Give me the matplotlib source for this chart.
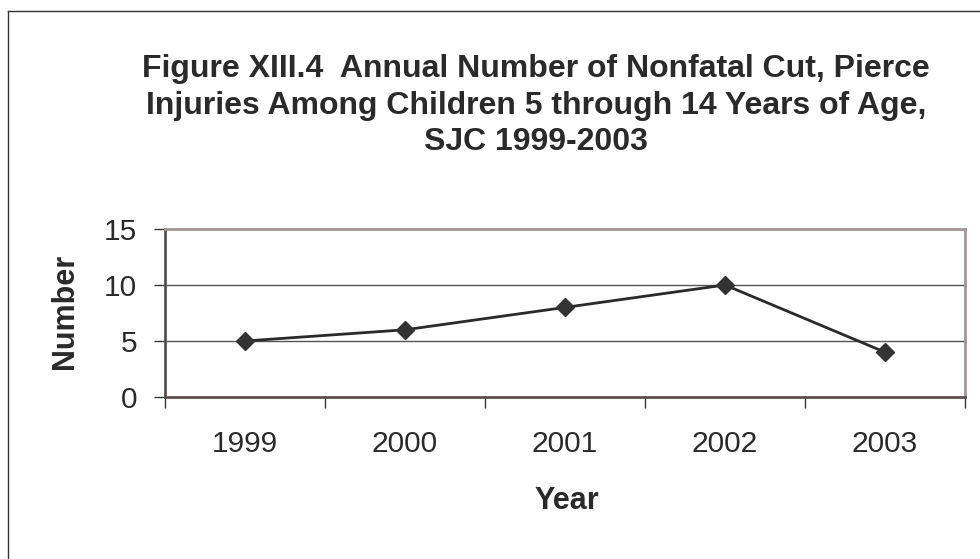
import matplotlib
matplotlib.use("Agg")
import matplotlib.pyplot as plt
from matplotlib.lines import Line2D

years = ["1999", "2000", "2001", "2002", "2003"]
counts = [5, 6, 8, 10, 4]
yticks = [0, 5, 10, 15]

plt.rcParams['font.family'] = ['Liberation Sans', 'DejaVu Sans']

W, H = 980, 559
fig = plt.figure(figsize=(W/100, H/100), dpi=100)
ax = fig.add_axes([165/W, 1-397/H, 800/W, 168/H])

x = list(range(len(years)))
ax.plot(x, counts, color='#2a2a2a', lw=2, marker='D', ms=9.5,
        markerfacecolor='#333333', markeredgecolor='#333333', zorder=3)

ax.set_xlim(-0.5, len(years)-0.5)
ax.set_ylim(0, 15)
ax.set_yticks(yticks)
ax.set_yticklabels([str(v) for v in yticks])
ax.set_xticks(x)
ax.set_xticklabels(years)
ax.set_xticks([i-0.5 for i in range(len(years)+1)], minor=True)
ax.tick_params(axis='x', which='major', length=0, labelsize=21.5, pad=24, colors='#2a2a2a')
ax.tick_params(axis='x', which='minor', length=8, width=1, color='#333333', direction='out')
ax.tick_params(axis='y', length=8, width=1, color='#333333', labelsize=21.5, pad=12, labelcolor='#2a2a2a')
for v in yticks[1:-1]:
    ax.axhline(v, color='#555555', lw=1, zorder=1)

for s in ['top', 'right']:
    ax.spines[s].set_color('#a09694')
    ax.spines[s].set_linewidth(2)
for s in ['left', 'bottom']:
    ax.spines[s].set_color('#5a4f4f')
    ax.spines[s].set_linewidth(2)

fig.text(567/W, 1-501/H, "Year", ha='center', va='center', fontsize=22,
         fontweight='bold', color='#2a2a2a')
fig.text(65/W, 1-311/H, "Number", ha='center', va='center', rotation=90,
         fontsize=22, fontweight='bold', color='#2a2a2a')

title_lines = ["Figure XIII.4  Annual Number of Nonfatal Cut, Pierce",
               "Injuries Among Children 5 through 14 Years of Age,",
               "SJC 1999-2003"]
for i, t in enumerate(title_lines):
    fig.text(536/W, 1-(77+36.5*i)/H, t, ha='center', va='baseline', fontsize=23,
             fontweight='bold', color='#2a2a2a')

fig.add_artist(Line2D([8/W, 8/W], [0, 1-11/H], transform=fig.transFigure, color='#333333', lw=1))
fig.add_artist(Line2D([8/W, 1], [1-11/H, 1-11/H], transform=fig.transFigure, color='#333333', lw=1))

fig.savefig("out.png", dpi=100)
